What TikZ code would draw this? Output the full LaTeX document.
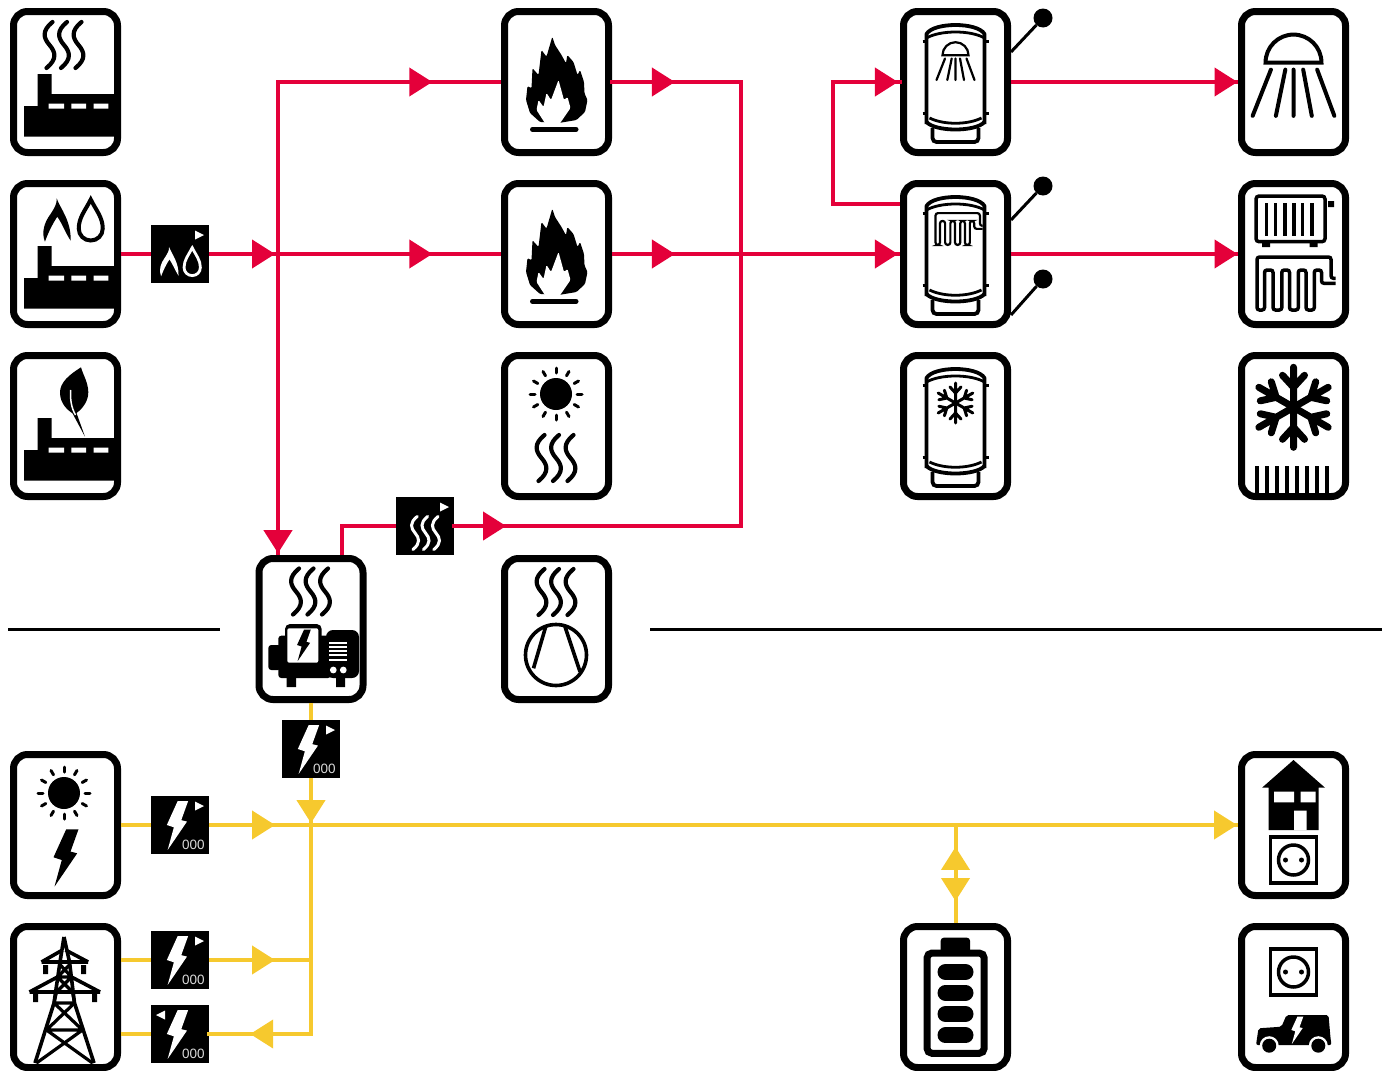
\documentclass[tikz,border=0pt]{standalone}
\usepackage{fontspec}
\setsansfont{Liberation Sans}
\usepackage{xcolor}
\usepackage{tikz}
\usetikzlibrary{calc,arrows.meta,decorations.markings}

\definecolor{heatred}{HTML}{E4003A}
\definecolor{powergold}{HTML}{F6C92E}

\tikzset{
  unit/.style={draw=black, fill=white, line width=7pt, rounded corners=14pt, minimum width=104pt, minimum height=141pt, inner sep=0pt},
  meter/.style={fill=black, minimum width=58pt, minimum height=58pt, inner sep=0pt},
  sensor/.style={circle, fill=black, minimum size=19pt, inner sep=0pt},
  redline/.style={draw=heatred, line width=4pt},
  goldline/.style={draw=powergold, line width=4pt},
  divider/.style={draw=black, line width=3pt},
  flow/.style={postaction={decorate}, decoration={markings, mark=at position #1 with {\arrow{Triangle[length=23pt,width=28pt]}}}},
  digits/.style={text=white!85!black, inner sep=0pt, font=\sffamily\fontsize{13.5}{14}\selectfont},
  % Small symbols
  steam/.pic={
    \foreach \dx in {-14.5,0,14.5}
      \draw[line cap=round, shift={(\dx,0)}] (3,-23) .. controls (-8,-14) and (-6,-7) .. (0,0) .. controls (6,7) and (8,14) .. (-3,23);
  },
  sun/.pic={
    \fill (0,0) circle (16);
    \foreach \a in {0,30,...,330}
      \draw[line width=3pt, line cap=round] (\a:21) -- (\a:26);
  },
  bolt/.pic={
    \fill (1.9,-28) -- (14.2,-28) -- (6.2,-5.7) -- (12.9,-4) -- (-9.8,29.3) -- (-2.5,2.7) -- (-10.8,0) -- cycle;
  },
  gas/.pic={
    \fill (-17.6,-22.2) .. controls (-14,-12) and (-3,0) .. (-3.6,20.2) .. controls (-9,12) and (-12,3) .. (-17,-3.8) .. controls (-22,4) and (-26,12) .. (-29.3,21.2) .. controls (-33,12) and (-30,2) .. (-24,-6) .. controls (-20,-12) and (-17,-17) .. cycle;
    \draw (16.5,-21) .. controls (11,-10) and (4.5,-3) .. (4.5,8) .. controls (4.5,15) and (10,20) .. (16.5,20) .. controls (23,20) and (28.5,15) .. (28.5,8) .. controls (28.5,-3) and (22,-10) .. cycle;
  },
  flagr/.pic={\fill (15,-23.5) -- (24,-19) -- (15,-14.5) -- cycle;},
  flagl/.pic={\fill (-15,-23.5) -- (-24,-19) -- (-15,-14.5) -- cycle;},
  factory/.pic={
    \fill (-41.5,24) -- (-28,24) -- (-28,-8) -- (-14,-8) -- (-14,12) -- (49,12) -- (49,54.7) -- (-41.5,54.7) -- cycle;
    \fill[white] (-17,21.5) rectangle (-1.5,26.5) (5.8,21.5) rectangle (20.5,26.5) (28,21.5) rectangle (42.8,26.5);
  },
  leaf/.pic={
    \fill (15.5,-58.7) .. controls (5,-52) and (-6,-44) .. (-5.5,-32.7) .. controls (-5,-22) and (2,-16) .. (7,-12.7) -- (19.5,10.7) -- (11,-13) .. controls (18,-18) and (23,-26) .. (22.8,-34) .. controls (22.5,-44) and (18,-50) .. cycle;
    \draw[white, line width=1.5pt] (5.2,-36) .. controls (4.5,-26) and (6,-18) .. (10,-11);
  },
  flame/.pic={
    \fill[rounded corners=1.2pt, line join=round] (-4.2,-45.3) -- (-1.5,-37) -- (5,-27) -- (9.5,-18.7) -- (10.8,-27) -- (17,-20) -- (21,-7) -- (23.5,-12) -- (27.5,0) -- (28,11.3) -- (31,18) -- (28.5,30) -- (20,38) -- (2,41) -- (-16.5,40) -- (-26.5,31) -- (-30.5,18) -- (-29,4) -- (-25,6.3) -- (-24,-13.7) -- (-18,-7) -- (-15,-32) -- (-10,-25.3) -- cycle;
    \fill[white, rounded corners=1.2pt] (-11,42) -- (-20,28) -- (-18,18) -- (-13,25) -- (-10,11) -- (-5.5,18) -- (2,-2) -- (7.5,18) -- (11,15) -- (14,26) -- (3,42) -- cycle;
    \draw[line width=5pt, line cap=round] (-24,47.3) -- (19.5,47.3);
  },
  tank/.pic={
    \draw[line width=3.8pt, line join=round] (-29,42) -- (-29,-48) .. controls (-22,-60) and (22,-60) .. (29,-48) -- (29,42);
    \draw[line width=2.8pt] (-29,-44) .. controls (-15,-52) and (15,-52) .. (29,-44);
    \draw[line width=3.8pt] (-29,40) .. controls (-20,50) and (20,50) .. (29,40);
    \draw[line width=2.8pt] (-26,36) .. controls (-12,43) and (12,43) .. (26,36);
    \draw[line width=3.8pt, rounded corners=4pt] (-23,46) -- (-23,60) -- (23,60) -- (23,46);
    \draw[line width=2.8pt] (-33,-40.3) -- (-29,-40.3) (29,-40.3) -- (33,-40.3) (-33,31.3) -- (-29,31.3) (29,31.3) -- (33,31.3);
  },
  shower/.pic={
    \draw (-13,-5.8) arc[start angle=180, end angle=360, radius=13] -- cycle;
    \draw[line cap=round] (-10.5,-2.5) -- (-19,19) (-3.8,-2.5) -- (-8.2,19) (0,-2.5) -- (0,19) (4.5,-2.5) -- (8.5,19) (11,-2.5) -- (19,19);
  },
  coil/.pic={
    \draw[rounded corners=2.5pt] (41,-5.2) -- (36.5,-5.2) -- (36.5,-26.5) -- (-37.5,-26.5) -- (-37.5,26.5) -- (-30,26.5) -- (-30,-13.5) -- (-21.5,-13.5) -- (-21.5,26.5) -- (-12.7,26.5) -- (-12.7,-13.5) -- (-5,-13.5) -- (-5,26.5) -- (3.8,26.5) -- (3.8,-13.5) -- (11.5,-13.5) -- (11.5,26.5) -- (19.8,26.5) -- (19.8,-13.5) -- (27,-13.5) -- (27,-0.2) -- (41,-0.2);
  },
  snow/.pic={
    \foreach \a in {30,90,...,330}
      \draw[rotate=\a, line cap=round] (0,0) -- (40,0) (20,0) -- (32,11) (20,0) -- (32,-11);
  },
  socket/.pic={
    \draw[line width=3.5pt] (-23,-23) rectangle (23,23);
    \draw[line width=3.5pt] (0,0) circle (15);
    \fill (-8,0) circle (2.5) (8,0) circle (2.5);
  },
}
\tikzset{
  radiator/.pic={
    \draw[line width=3.5pt, rounded corners=3pt] (-37.5,-58) rectangle (31.5,-12.3);
    \foreach \bx in {-27,-18,-8.5,0.5,9,18.5}
      \draw[line width=3.5pt] (\bx,-51) -- (\bx,-18);
    \fill (-31.5,-13) rectangle (-23.5,-7) (16,-13) rectangle (24,-7) (34.5,-53) rectangle (40.5,-47);
  },
  compressor/.pic={
    \draw[line width=3.6pt] (-0.5,26) circle (30.5);
    \draw[line width=3.6pt] (-10.8,-2.3) -- (-23,39.3) (8.5,-2.3) -- (23.5,42.7);
  },
  engine/.pic={
    \fill[rounded corners=3pt] (-42.7,16) rectangle (-30,41);
    \fill[rounded corners=3pt] (-32.7,6.7) rectangle (20,49);
    \fill[rounded corners=5pt] (-26,-5) rectangle (10.7,36);
    \fill[rounded corners=7pt] (15,1) rectangle (48,49);
    \fill (-24.3,45) rectangle (-15,58) (25,45) rectangle (34,58);
    \fill[white, rounded corners=2pt] (-23.7,-0.7) rectangle (7.3,33.7);
    \pic[scale=.55] at (-8,16) {bolt};
    \foreach \gy in {13.7,17.7,21.7,26,31}
      \draw[white, line width=2.2pt] (18.3,\gy) -- (36.3,\gy);
    \fill[white] (22.3,41) circle (3.4) (32.3,41) circle (3.4);
  },
  house/.pic={
    \fill (0,-65) -- (31.5,-37.3) -- (25,-37.3) -- (25,5) -- (-25,5) -- (-25,-37.3) -- (-31.5,-37.3) -- cycle;
    \fill[white] (-19.5,-33.3) rectangle (0.5,-22.7) (7.2,-33.3) rectangle (22.2,-22.7) (0.5,-14.3) rectangle (13,5);
  },
  car/.pic={
    \fill[rounded corners=2pt] (-37.5,48) -- (-35,31.3) -- (-12,29.7) -- (-7,18) -- (35,18) -- (37,41) -- (38,48) -- cycle;
    \fill[white] (-24.3,48.7) circle (9.5) (24.8,48.7) circle (9.5);
    \fill (-24.3,48.7) circle (7) (24.8,48.7) circle (7);
    \pic[white, scale=.48] at (3,33) {bolt};
  },
  battery/.pic={
    \fill[rounded corners=3pt] (-14.8,-59.3) rectangle (14.5,-44);
    \draw[line width=7pt, rounded corners=5pt] (-28.5,-44) rectangle (28.7,56.3);
    \foreach \cy in {-25,-4.2,17,38.3}
      \draw[line width=16pt, line cap=round] (-10,\cy) -- (10,\cy);
  },
  tower/.pic={
    \draw[line width=3.6pt, line join=round] (-1.5,-60) -- (-5.5,-35) -- (-11.5,6) -- (-30.5,66) (-1.5,-60) -- (4,-35) -- (9,6) -- (28.5,66);
    \draw[line width=3.6pt, line join=round] (-24,-35) -- (22.7,-35) (-24,-35) -- (-3,-47) (22.7,-35) -- (0,-47);
    \draw[line width=3.6pt, line join=round] (-36,-5) -- (34.5,-5) (-36,-5) -- (-8,-20) (34.5,-5) -- (6,-20);
    \draw[line width=3.2pt] (-8,-20) -- (6,-20) (-6,-33) -- (6,-20) (5,-33) -- (-8,-20) (-8,-20) -- (7,-5) (6,-20) -- (-9,-5);
    \draw[line width=3.2pt] (-11.5,6) -- (9,6) (-11.5,6) -- (17,33) (9,6) -- (-19,33) (-19,33) -- (17,33) (-19,33) -- (27,66) (17,33) -- (-29,66) (-9,-5) -- (-11.5,6) (7,-5) -- (9,6);
    \fill (-22.5,-32) rectangle (-17.5,-23) (15.5,-32) rectangle (20.5,-23) (-32.5,-4) rectangle (-27.5,5) (26.5,-4) rectangle (31.5,5);
  },
}

\begin{document}
\begin{tikzpicture}[x=1pt, y=-1pt]
  \useasboundingbox (0,0) rectangle (1382,1071);

  % Units
  \node[unit] (heatplant) at (65.5,82) {};
  \node[unit] (gasplant) at (65.5,254) {};
  \node[unit] (bioplant) at (65.5,426) {};
  \node[unit] (boilera) at (556.5,82) {};
  \node[unit] (boilerb) at (556.5,254) {};
  \node[unit] (solarheat) at (556.5,426) {};
  \node[unit] (tanka) at (955.5,82) {};
  \node[unit] (tankb) at (955.5,254) {};
  \node[unit] (tankc) at (955.5,426) {};
  \node[unit] (showerbox) at (1293.5,82) {};
  \node[unit] (heating) at (1293.5,254) {};
  \node[unit] (cooling) at (1293.5,426) {};
  \node[unit] (chp) at (311,629) {};
  \node[unit] (heatpump) at (556.5,629) {};
  \node[unit] (pv) at (65.5,825) {};
  \node[unit] (grid) at (65.5,997) {};
  \node[unit] (storage) at (955.5,997) {};
  \node[unit] (home) at (1293.5,825) {};
  \node[unit] (charger) at (1293.5,997) {};

  % Meters
  \node[meter] (mgas) at (180,254) {};
  \node[meter] (mheat) at (425,526) {};
  \node[meter] (mchp) at (311,749) {};
  \node[meter] (mpv) at (180,825) {};
  \node[meter] (mgridin) at (180,960) {};
  \node[meter] (mgridout) at (180,1034) {};

  % Tank sensors
  \node[sensor] (sensa) at (1043,18) {};
  \node[sensor] (sensb) at (1043,186) {};
  \node[sensor] (sensc) at (1043,279) {};
  \draw[line width=3pt] ($(tanka.east)+(0,-30)$) -- (sensa);
  \draw[line width=3pt] ($(tankb.east)+(0,-34)$) -- (sensb);
  \draw[line width=3pt] ($(tankb.east)+(0,61)$) -- (sensc);

  % Dividers
  \coordinate (dla) at (8,629);
  \coordinate (dlb) at (220,629);
  \coordinate (dra) at (650,629);
  \coordinate (drb) at (1382,629);
  \draw[divider] (dla) -- (dlb);
  \draw[divider] (dra) -- (drb);

  % Heat network
  \coordinate (jtop) at (278,82);
  \coordinate (jgas) at (278,254);
  \coordinate (jright) at (741,82);
  \coordinate (jmid) at (741,254);
  \coordinate (jlow) at (741,526);
  \coordinate (chpout) at (342,555);
  \coordinate (chpup) at (342,526);
  \coordinate (loopa) at (833,82);
  \coordinate (loopb) at (833,204);
  \draw[redline] (gasplant.east) -- (mgas.west);
  \draw[redline, flow=.957] (mgas.east) -- (jgas);
  \draw[redline, line cap=rect] (jtop) -- (jgas);
  \draw[redline, flow=.994] (jgas) -- (jgas |- chp.north);
  \draw[redline, flow=.692] (jtop) -- (boilera.west);
  \draw[redline, flow=.692] (jgas) -- (boilerb.west);
  \draw[redline, flow=.488, line cap=rect] (boilera.east) -- (jright);
  \draw[redline, line cap=rect] (jright) -- (jlow);
  \draw[redline, flow=.488] (boilerb.east) -- (jmid);
  \draw[redline, flow=.987] (jmid) -- (tankb.west);
  \draw[redline, line join=miter] (chpout) -- (chpup) -- (mheat.west);
  \draw[redline, flow=.181, line cap=rect] (mheat.east) -- (jlow);
  \draw[redline, line join=miter] (tankb.west |- loopb) -- (loopb) -- (loopa);
  \draw[redline, flow=.97, line cap=rect] (loopa) -- (tanka.west);
  \draw[redline, flow=.998] (tanka.east) -- (showerbox.west);
  \draw[redline, flow=.998] (tankb.east) -- (heating.west);

  % Power network
  \coordinate (jbus) at (311,825);
  \coordinate (jgridin) at (311,960);
  \coordinate (jgridout) at (311,1034);
  \coordinate (jbatt) at (955.5,825);
  \draw[goldline] (chp.south) -- (mchp.north);
  \draw[goldline, flow=.96] (mchp.south) -- (jbus);
  \draw[goldline] (pv.east |- mpv) -- (mpv.west);
  \draw[goldline, flow=.647] (mpv.east) -- (jbus);
  \draw[goldline, flow=.999] (jbus) -- (home.west);
  \draw[goldline, line join=miter] (jbus) -- (jgridin) -- (jgridout);
  \draw[goldline] (grid.east |- mgridin) -- (mgridin.west);
  \draw[goldline, flow=.647] (mgridin.east) -- (jgridin);
  \draw[goldline, flow=.598, line cap=rect] (jgridout) -- (mgridout.east);
  \draw[goldline] (mgridout.west) -- (grid.east |- mgridout);
  \draw[goldline, flow=.776] (storage.north) -- (jbatt);
  \draw[goldline, flow=.776] (jbatt) -- (storage.north);

  % Symbols, first column
  \pic[line width=4.2pt] at ($(heatplant)+(-1.5,-37)$) {steam};
  \pic at (heatplant) {factory};
  \pic[line width=4pt] at ($(gasplant)+(8.75,-33.5)$) {gas};
  \pic at (gasplant) {factory};
  \pic at (bioplant) {factory};
  \pic at (bioplant) {leaf};

  % Symbols, second column
  \pic at (boilera) {flame};
  \pic at (boilerb) {flame};
  \pic at ($(solarheat)+(-0.5,-32)$) {sun};
  \pic[line width=4.2pt] at ($(solarheat)+(-0.5,32)$) {steam};
  \pic[line width=4.2pt] at ($(heatpump)+(-0.5,-37)$) {steam};
  \pic at (heatpump) {compressor};

  % Symbols, tanks
  \pic at (tanka) {tank};
  \pic[line width=2.2pt] at ($(tanka)+(0,-21)$) {shower};
  \pic at (tankb) {tank};
  \pic[scale=.6, line width=2.2pt] at ($(tankb)+(2.5,-25)$) {coil};
  \pic at (tankc) {tank};
  \pic[scale=.5, line width=3pt] at ($(tankc)+(0,-23)$) {snow};

  % Symbols, loads
  \pic[scale=2.15, line width=4pt] at ($(showerbox)+(0,-7)$) {shower};
  \pic at (heating) {radiator};
  \pic[line width=3.5pt] at ($(heating)+(1,29.5)$) {coil};
  \pic[line width=7pt] at ($(cooling)+(0,-18.7)$) {snow};
  \foreach \tx in {-36.2,-26.2,...,34}
    \draw[line width=4pt] ($(cooling)+(\tx,40)$) -- ($(cooling)+(\tx,68)$);

  % Symbols, power side
  \pic[line width=4.2pt] at ($(chp)+(-0.5,-37.5)$) {steam};
  \pic at (chp) {engine};
  \pic at ($(pv)+(-1.5,-32)$) {sun};
  \pic at ($(pv)+(-1.2,32.3)$) {bolt};
  \pic at (grid) {tower};
  \pic at (storage) {battery};
  \pic at (home) {house};
  \pic at ($(home)+(0,35)$) {socket};
  \pic at ($(charger)+(0,-25)$) {socket};
  \pic at (charger) {car};

  % Meter faces
  \pic[white, line width=3pt, scale=.72] at ($(mheat)+(0.5,7)$) {steam};
  \pic[white] at (mheat) {flagr};
  \pic[white, line width=2.8pt, scale=.68] at ($(mgas)+(1,8)$) {gas};
  \pic[white] at (mgas) {flagr};
  \foreach \m/\f in {mchp/flagr, mpv/flagr, mgridin/flagr, mgridout/flagl} {
    \pic[white, scale=.85] at ($(\m)+(-4,0)$) {bolt};
    \pic[white] at (\m) {\f};
    \node[digits] (\m num) at ($(\m)+(13.3,20)$) {000};
  }
\end{tikzpicture}
\end{document}
